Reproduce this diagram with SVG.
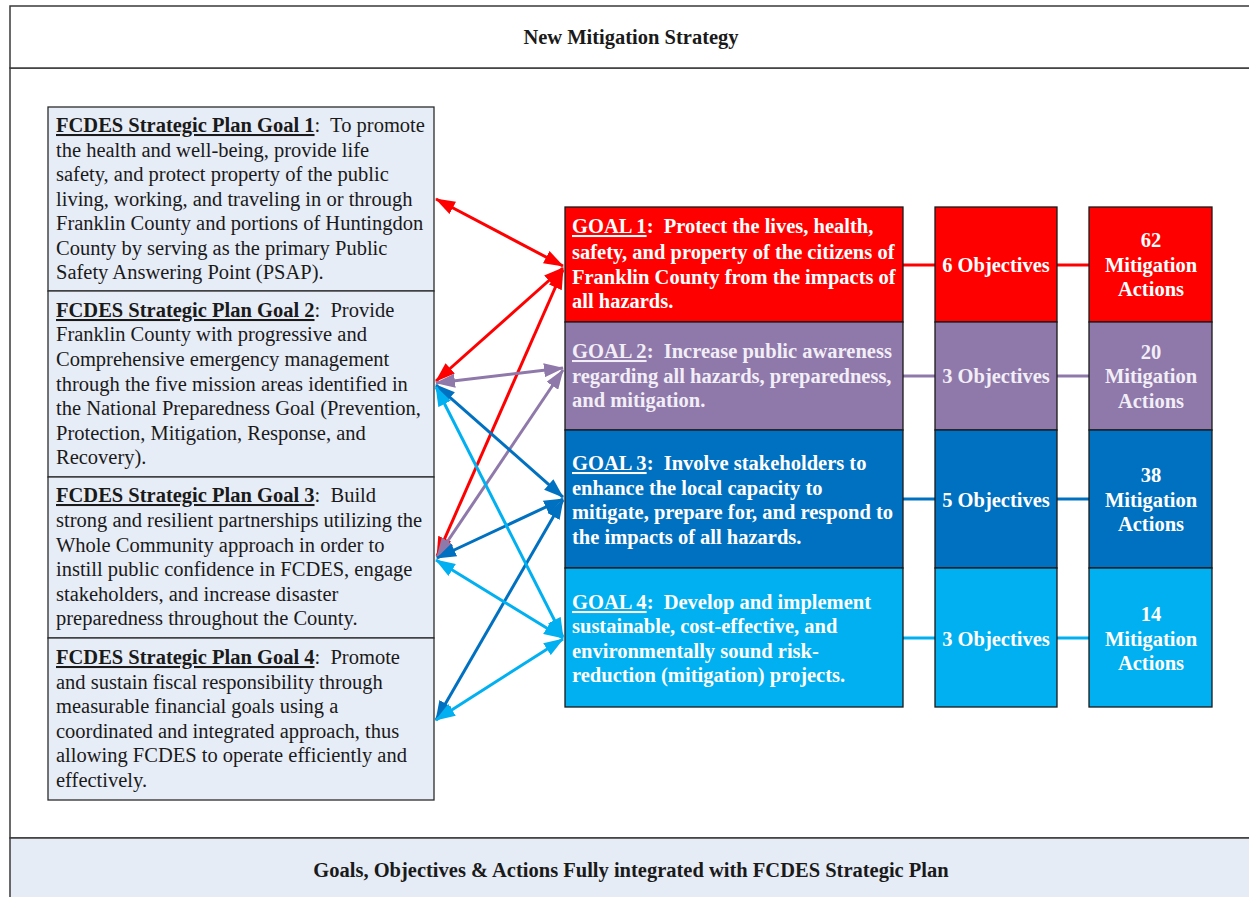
<svg xmlns="http://www.w3.org/2000/svg" width="1249" height="897" viewBox="0 0 1249 897">
<style>
.frame{fill:#ffffff;stroke:#3a3a3a;stroke-width:1.5}
.band{fill:#e6ecf6;stroke:#3a3a3a;stroke-width:1.5}
.lbox{fill:#e7edf7;stroke:#2b2b2b;stroke-width:1.3}
.gbox{stroke:#1a1a1a;stroke-width:1.3}
.t{font-family:"Liberation Serif","Times New Roman",serif;font-size:20.5px;fill:#1a1a1a;white-space:pre}
.b{font-weight:bold}
.u{text-decoration:underline}
.w{font-family:"Liberation Serif","Times New Roman",serif;font-size:20.5px;font-weight:bold;fill:#ffffff;white-space:pre}
.w2{fill:#f2eef6}
.c{text-anchor:middle}
.red{stroke:#ff0000}
.pur{stroke:#8f78aa}
.dbl{stroke:#0070c0}
.lbl{stroke:#00b0f0}
.arr{stroke-width:3;fill:none}
</style>
<defs>
<marker id="mr" viewBox="0 0 20 14" refX="19" refY="7" markerWidth="20" markerHeight="14" markerUnits="userSpaceOnUse" orient="auto-start-reverse"><path d="M0,0 L20,7 L0,14 z" fill="#ff0000"/></marker>
<marker id="mp" viewBox="0 0 20 14" refX="19" refY="7" markerWidth="20" markerHeight="14" markerUnits="userSpaceOnUse" orient="auto-start-reverse"><path d="M0,0 L20,7 L0,14 z" fill="#8f78aa"/></marker>
<marker id="md" viewBox="0 0 20 14" refX="19" refY="7" markerWidth="20" markerHeight="14" markerUnits="userSpaceOnUse" orient="auto-start-reverse"><path d="M0,0 L20,7 L0,14 z" fill="#0070c0"/></marker>
<marker id="ml" viewBox="0 0 20 14" refX="19" refY="7" markerWidth="20" markerHeight="14" markerUnits="userSpaceOnUse" orient="auto-start-reverse"><path d="M0,0 L20,7 L0,14 z" fill="#00b0f0"/></marker>
</defs>

<g id="frame">
<rect class="frame" x="10" y="68" width="1260" height="770"/>
<rect class="frame" x="10" y="6" width="1260" height="62"/>
<text class="t b c" x="631" y="44">New Mitigation Strategy</text>
</g>

<g id="footer">
<rect class="band" x="10" y="838" width="1260" height="80"/>
<text class="t b c" x="631" y="877">Goals, Objectives &amp; Actions Fully integrated with FCDES Strategic Plan</text>
</g>

<g id="plan1">
<rect class="lbox" x="48" y="107" width="386" height="184"/>
<text class="t" xml:space="preserve"><tspan x="56" y="132"><tspan class="b u">FCDES Strategic Plan Goal 1</tspan>:  To promote</tspan><tspan x="56" y="157">the health and well-being, provide life</tspan><tspan x="56" y="181">safety, and protect property of the public</tspan><tspan x="56" y="206">living, working, and traveling in or through</tspan><tspan x="56" y="230">Franklin County and portions of Huntingdon</tspan><tspan x="56" y="255">County by serving as the primary Public</tspan><tspan x="56" y="279">Safety Answering Point (PSAP).</tspan></text>
</g>
<g id="plan2">
<rect class="lbox" x="48" y="291" width="386" height="186"/>
<text class="t" xml:space="preserve"><tspan x="56" y="317"><tspan class="b u">FCDES Strategic Plan Goal 2</tspan>:  Provide</tspan><tspan x="56" y="341">Franklin County with progressive and</tspan><tspan x="56" y="366">Comprehensive emergency management</tspan><tspan x="56" y="391">through the five mission areas identified in</tspan><tspan x="56" y="415">the National Preparedness Goal (Prevention,</tspan><tspan x="56" y="440">Protection, Mitigation, Response, and</tspan><tspan x="56" y="464">Recovery).</tspan></text>
</g>
<g id="plan3">
<rect class="lbox" x="48" y="477" width="386" height="161"/>
<text class="t" xml:space="preserve"><tspan x="56" y="502"><tspan class="b u">FCDES Strategic Plan Goal 3</tspan>:  Build</tspan><tspan x="56" y="527">strong and resilient partnerships utilizing the</tspan><tspan x="56" y="552">Whole Community approach in order to</tspan><tspan x="56" y="576">instill public confidence in FCDES, engage</tspan><tspan x="56" y="601">stakeholders, and increase disaster</tspan><tspan x="56" y="625">preparedness throughout the County.</tspan></text>
</g>
<g id="plan4">
<rect class="lbox" x="48" y="638" width="386" height="162"/>
<text class="t" xml:space="preserve"><tspan x="56" y="664"><tspan class="b u">FCDES Strategic Plan Goal 4</tspan>:  Promote</tspan><tspan x="56" y="689">and sustain fiscal responsibility through</tspan><tspan x="56" y="713">measurable financial goals using a</tspan><tspan x="56" y="738">coordinated and integrated approach, thus</tspan><tspan x="56" y="762">allowing FCDES to operate efficiently and</tspan><tspan x="56" y="787">effectively.</tspan></text>
</g>

<g id="connectors">
<line class="arr red" x1="436" y1="199" x2="563" y2="266" marker-start="url(#mr)" marker-end="url(#mr)"/>
<line class="arr red" x1="436" y1="381" x2="563" y2="268" marker-start="url(#mr)" marker-end="url(#mr)"/>
<line class="arr red" x1="437" y1="556" x2="563" y2="270" marker-start="url(#mr)" marker-end="url(#mr)"/>
<line class="arr pur" x1="436" y1="383" x2="563" y2="368" marker-start="url(#mp)" marker-end="url(#mp)"/>
<line class="arr pur" x1="437" y1="557" x2="563" y2="370" marker-start="url(#mp)" marker-end="url(#mp)"/>
<line class="arr dbl" x1="436" y1="385" x2="563" y2="497" marker-start="url(#md)" marker-end="url(#md)"/>
<line class="arr dbl" x1="437" y1="558" x2="563" y2="499" marker-start="url(#md)" marker-end="url(#md)"/>
<line class="arr dbl" x1="436" y1="720" x2="563" y2="500" marker-start="url(#md)" marker-end="url(#md)"/>
<line class="arr lbl" x1="436" y1="387" x2="563" y2="637" marker-start="url(#ml)" marker-end="url(#ml)"/>
<line class="arr lbl" x1="436" y1="560" x2="563" y2="638" marker-start="url(#ml)" marker-end="url(#ml)"/>
<line class="arr lbl" x1="436" y1="720" x2="563" y2="639" marker-start="url(#ml)" marker-end="url(#ml)"/>
<line class="arr red" x1="903" y1="265" x2="935" y2="265"/>
<line class="arr red" x1="1057" y1="265" x2="1089" y2="265"/>
<line class="arr pur" x1="903" y1="376" x2="935" y2="376"/>
<line class="arr pur" x1="1057" y1="376" x2="1089" y2="376"/>
<line class="arr dbl" x1="903" y1="499" x2="935" y2="499"/>
<line class="arr dbl" x1="1057" y1="499" x2="1089" y2="499"/>
<line class="arr lbl" x1="903" y1="638" x2="935" y2="638"/>
<line class="arr lbl" x1="1057" y1="638" x2="1089" y2="638"/>
</g>

<g id="goal1">
<rect class="gbox" x="565" y="207" width="338" height="115" fill="#ff0000"/>
<text class="w" xml:space="preserve"><tspan x="572" y="233"><tspan class="u">GOAL 1</tspan>:  Protect the lives, health,</tspan><tspan x="572" y="259">safety, and property of the citizens of</tspan><tspan x="572" y="284">Franklin County from the impacts of</tspan><tspan x="572" y="308">all hazards.</tspan></text>
</g>
<g id="goal2">
<rect class="gbox" x="565" y="322" width="338" height="108" fill="#8f78aa"/>
<text class="w w2" xml:space="preserve"><tspan x="572" y="358"><tspan class="u">GOAL 2</tspan>:  Increase public awareness</tspan><tspan x="572" y="383">regarding all hazards, preparedness,</tspan><tspan x="572" y="407">and mitigation.</tspan></text>
</g>
<g id="goal3">
<rect class="gbox" x="565" y="430" width="338" height="138" fill="#0070c0"/>
<text class="w" xml:space="preserve"><tspan x="572" y="470"><tspan class="u">GOAL 3</tspan>:  Involve stakeholders to</tspan><tspan x="572" y="495">enhance the local capacity to</tspan><tspan x="572" y="519">mitigate, prepare for, and respond to</tspan><tspan x="572" y="544">the impacts of all hazards.</tspan></text>
</g>
<g id="goal4">
<rect class="gbox" x="565" y="568" width="338" height="139" fill="#00b0f0"/>
<text class="w" xml:space="preserve"><tspan x="572" y="609"><tspan class="u">GOAL 4</tspan>:  Develop and implement</tspan><tspan x="572" y="633">sustainable, cost-effective, and</tspan><tspan x="572" y="658">environmentally sound risk-</tspan><tspan x="572" y="682">reduction (mitigation) projects.</tspan></text>
</g>

<g id="obj1"><rect class="gbox" x="935" y="207" width="122" height="115" fill="#ff0000"/><text class="w c" x="996" y="272">6 Objectives</text></g>
<g id="obj2"><rect class="gbox" x="935" y="322" width="122" height="108" fill="#8f78aa"/><text class="w w2 c" x="996" y="383">3 Objectives</text></g>
<g id="obj3"><rect class="gbox" x="935" y="430" width="122" height="138" fill="#0070c0"/><text class="w c" x="996" y="507">5 Objectives</text></g>
<g id="obj4"><rect class="gbox" x="935" y="568" width="122" height="139" fill="#00b0f0"/><text class="w c" x="996" y="646">3 Objectives</text></g>

<g id="act1"><rect class="gbox" x="1089" y="207" width="123" height="115" fill="#ff0000"/><text class="w c"><tspan x="1151" y="247">62</tspan><tspan x="1151" y="272">Mitigation</tspan><tspan x="1151" y="296">Actions</tspan></text></g>
<g id="act2"><rect class="gbox" x="1089" y="322" width="123" height="108" fill="#8f78aa"/><text class="w w2 c"><tspan x="1151" y="359">20</tspan><tspan x="1151" y="383">Mitigation</tspan><tspan x="1151" y="408">Actions</tspan></text></g>
<g id="act3"><rect class="gbox" x="1089" y="430" width="123" height="138" fill="#0070c0"/><text class="w c"><tspan x="1151" y="482">38</tspan><tspan x="1151" y="507">Mitigation</tspan><tspan x="1151" y="531">Actions</tspan></text></g>
<g id="act4"><rect class="gbox" x="1089" y="568" width="123" height="139" fill="#00b0f0"/><text class="w c"><tspan x="1151" y="621">14</tspan><tspan x="1151" y="646">Mitigation</tspan><tspan x="1151" y="670">Actions</tspan></text></g>
</svg>
